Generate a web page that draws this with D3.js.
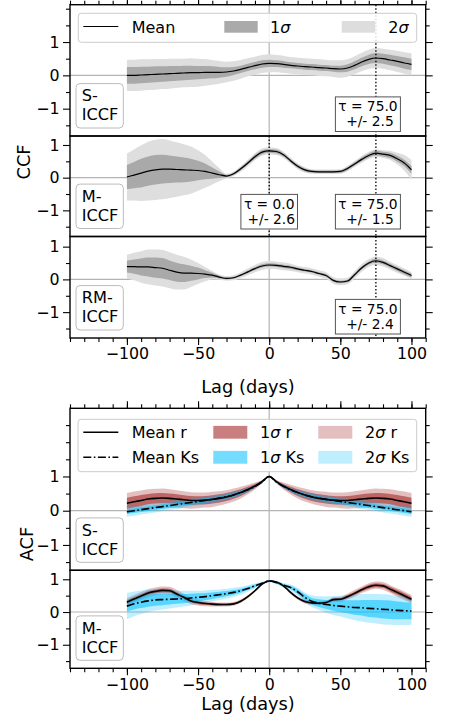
<!DOCTYPE html>
<html>
<head>
<meta charset="utf-8">
<script src="https://cdn.jsdelivr.net/npm/d3@7"></script>
<style>
    body { margin: 0; background: #fff; }
    svg { display: block; font-family: "DejaVu Sans", sans-serif; }
</style>
</head>
<body>
<svg id="chart" width="454" height="722"></svg>
<script>
// lag grid (days)
var lags = [-100,-95,-90,-85,-80,-75,-70,-65,-60,-55,-50,-45,-40,-35,-30,-25,-20,-15,-10,-5,
            0,5,10,15,20,25,30,35,40,45,50,55,60,65,70,75,80,85,90,95,100];

// CCF, S-ICCF
var ccfSMean = [0.00,0.00,0.01,0.02,0.03,0.04,0.05,0.06,0.07,0.08, 0.08,0.09,0.09,0.09,0.10,0.13,0.18,0.24,0.29,0.34,
                0.36,0.35,0.33,0.30,0.28,0.26,0.25,0.23,0.22,0.20, 0.19,0.22,0.30,0.40,0.48,0.52,0.50,0.46,0.42,0.37,0.33];
var ccfSSig1 = [0.25,0.25,0.25,0.24,0.24,0.23,0.23,0.22,0.22,0.21, 0.20,0.19,0.18,0.16,0.14,0.12,0.11,0.11,0.11,0.11,
                0.11,0.10,0.10,0.09,0.09,0.09,0.09,0.09,0.09,0.09, 0.10,0.11,0.12,0.13,0.14,0.15,0.15,0.16,0.16,0.17,0.17];
var ccfSSig2 = [0.47,0.47,0.47,0.46,0.46,0.45,0.45,0.44,0.43,0.43, 0.42,0.40,0.37,0.34,0.31,0.29,0.28,0.27,0.27,0.27,
                0.27,0.26,0.26,0.25,0.25,0.25,0.25,0.25,0.25,0.25, 0.26,0.26,0.27,0.28,0.29,0.30,0.30,0.31,0.32,0.32,0.33];

// CCF, M-ICCF
var ccfMMean = [0.02,0.08,0.14,0.20,0.24,0.26,0.26,0.25,0.24,0.23, 0.22,0.19,0.14,0.09,0.05,0.12,0.27,0.45,0.64,0.78,
                0.82,0.80,0.70,0.52,0.35,0.24,0.19,0.18,0.18,0.18, 0.19,0.28,0.42,0.56,0.68,0.75,0.72,0.68,0.58,0.45,0.24];
var ccfMSig1 = [0.37,0.40,0.44,0.45,0.45,0.44,0.42,0.40,0.38,0.35, 0.30,0.24,0.17,0.10,0.04,0.04,0.05,0.05,0.06,0.06,
                0.06,0.06,0.05,0.05,0.05,0.05,0.04,0.04,0.04,0.04, 0.04,0.05,0.05,0.06,0.06,0.07,0.07,0.08,0.09,0.10,0.12];
var ccfMSig2 = [0.72,0.78,0.85,0.90,0.92,0.92,0.88,0.83,0.78,0.72, 0.62,0.50,0.35,0.20,0.07,0.07,0.09,0.10,0.11,0.11,
                0.11,0.11,0.10,0.09,0.09,0.08,0.07,0.07,0.07,0.07, 0.07,0.08,0.09,0.10,0.11,0.12,0.12,0.14,0.18,0.24,0.30];

// CCF, RM-ICCF
var ccfRMMean = [0.39,0.39,0.38,0.38,0.36,0.34,0.28,0.22,0.19,0.19, 0.18,0.16,0.13,0.07,0.03,0.05,0.13,0.23,0.33,0.41,
                 0.44,0.43,0.40,0.37,0.32,0.28,0.24,0.18,0.12,-0.03, -0.08,-0.05,0.14,0.35,0.50,0.57,0.52,0.42,0.32,0.22,0.12];
var ccfRMSig1 = [0.18,0.22,0.26,0.29,0.31,0.31,0.30,0.29,0.27,0.23, 0.18,0.12,0.07,0.04,0.03,0.03,0.03,0.04,0.04,0.05,
                 0.05,0.05,0.05,0.05,0.04,0.04,0.04,0.04,0.04,0.04, 0.04,0.04,0.05,0.05,0.05,0.06,0.06,0.06,0.06,0.06,0.06];
var ccfRMSig2 = [0.36,0.42,0.48,0.53,0.55,0.56,0.55,0.53,0.50,0.42, 0.32,0.22,0.13,0.08,0.07,0.08,0.09,0.10,0.11,0.12,
                 0.12,0.12,0.12,0.11,0.10,0.10,0.10,0.10,0.10,0.10, 0.10,0.10,0.11,0.12,0.12,0.13,0.13,0.12,0.12,0.11,0.10];

// ACF, S-ICCF
var acfSR     = [0.22,0.26,0.30,0.34,0.36,0.37,0.36,0.34,0.32,0.30, 0.30,0.31,0.33,0.36,0.40,0.46,0.53,0.62,0.72,0.85,
                 1.00,0.85,0.72,0.62,0.53,0.46,0.40,0.36,0.33,0.31, 0.30,0.30,0.32,0.34,0.36,0.37,0.36,0.34,0.30,0.26,0.22];
var acfSRSig1 = [0.16,0.16,0.16,0.15,0.15,0.15,0.14,0.14,0.13,0.13, 0.12,0.12,0.12,0.12,0.12,0.11,0.10,0.08,0.06,0.03,
                 0.00,0.03,0.06,0.08,0.10,0.11,0.12,0.12,0.12,0.12, 0.12,0.13,0.13,0.14,0.14,0.15,0.15,0.15,0.16,0.16,0.16];
var acfSRSig2 = [0.30,0.30,0.29,0.29,0.28,0.28,0.27,0.26,0.25,0.24, 0.23,0.22,0.22,0.21,0.20,0.19,0.17,0.14,0.10,0.05,
                 0.01,0.05,0.10,0.14,0.17,0.19,0.20,0.21,0.22,0.22, 0.23,0.24,0.25,0.26,0.27,0.28,0.28,0.29,0.29,0.30,0.30];
var acfSKs     = [-0.03,0.00,0.03,0.06,0.09,0.12,0.15,0.18,0.21,0.24, 0.27,0.30,0.33,0.37,0.41,0.46,0.53,0.61,0.71,0.84,
                  1.00,0.84,0.71,0.61,0.53,0.46,0.41,0.37,0.33,0.30, 0.27,0.24,0.21,0.18,0.15,0.12,0.09,0.06,0.03,0.00,-0.03];
var acfSKsSig1 = [0.07,0.07,0.07,0.07,0.07,0.07,0.07,0.07,0.07,0.07, 0.07,0.07,0.06,0.06,0.06,0.06,0.05,0.04,0.03,0.02,
                  0.00,0.02,0.03,0.04,0.05,0.06,0.06,0.06,0.06,0.07, 0.07,0.07,0.07,0.07,0.07,0.07,0.07,0.07,0.07,0.07,0.07];
var acfSKsSig2 = [0.15,0.15,0.14,0.14,0.14,0.13,0.13,0.13,0.12,0.12, 0.12,0.11,0.11,0.10,0.10,0.09,0.08,0.07,0.05,0.03,
                  0.01,0.03,0.05,0.07,0.08,0.09,0.10,0.10,0.11,0.11, 0.12,0.12,0.12,0.13,0.13,0.13,0.14,0.14,0.14,0.15,0.15];

// ACF, M-ICCF
var acfMR     = [0.30,0.40,0.49,0.58,0.63,0.66,0.65,0.55,0.45,0.34, 0.29,0.26,0.24,0.23,0.23,0.25,0.33,0.47,0.65,0.85,
                 0.95,0.92,0.80,0.60,0.43,0.32,0.28,0.27,0.29,0.38, 0.39,0.47,0.57,0.68,0.77,0.82,0.80,0.70,0.60,0.50,0.39];
var acfMRSig1 = [0.06,0.06,0.06,0.06,0.06,0.06,0.06,0.06,0.05,0.05, 0.05,0.04,0.04,0.04,0.03,0.03,0.03,0.03,0.02,0.02,
                 0.02,0.02,0.02,0.03,0.03,0.03,0.03,0.03,0.03,0.04, 0.04,0.05,0.05,0.05,0.06,0.06,0.06,0.07,0.07,0.07,0.07];
var acfMRSig2 = [0.12,0.12,0.12,0.12,0.12,0.12,0.12,0.12,0.11,0.10, 0.09,0.08,0.07,0.06,0.06,0.06,0.05,0.05,0.04,0.03,
                 0.03,0.03,0.04,0.05,0.05,0.06,0.06,0.06,0.06,0.07, 0.08,0.09,0.10,0.10,0.11,0.11,0.12,0.12,0.13,0.13,0.13];
var acfMKs     = [0.18,0.25,0.30,0.34,0.37,0.38,0.39,0.40,0.41,0.43, 0.45,0.47,0.50,0.53,0.56,0.60,0.65,0.72,0.80,0.88,
                  0.95,0.90,0.82,0.75,0.62,0.45,0.33,0.27,0.23,0.20, 0.18,0.16,0.14,0.13,0.11,0.10,0.08,0.07,0.05,0.04,0.03];
var acfMKsSig1 = [0.16,0.17,0.18,0.18,0.18,0.17,0.16,0.15,0.14,0.13, 0.12,0.11,0.10,0.09,0.08,0.07,0.06,0.05,0.04,0.03,
                  0.02,0.03,0.04,0.05,0.07,0.09,0.10,0.12,0.14,0.16, 0.18,0.20,0.22,0.24,0.26,0.27,0.28,0.28,0.27,0.26,0.25];
var acfMKsSig2 = [0.40,0.38,0.36,0.34,0.32,0.30,0.28,0.26,0.24,0.22, 0.20,0.19,0.18,0.16,0.15,0.14,0.12,0.10,0.07,0.04,
                  0.03,0.05,0.07,0.09,0.12,0.15,0.18,0.21,0.25,0.29, 0.32,0.36,0.39,0.42,0.44,0.45,0.46,0.46,0.45,0.44,0.42];

// peak lags
var tauS = [75.0],       tauSErr = [2.5];
var tauM = [0.0, 75.0],  tauMErr = [2.6, 1.5];
var tauRM = [75.0],      tauRMErr = [2.4];

var xMajor = [-100, -50, 0, 50, 100],
    yMajor = [-1, 0, 1];

var svg = d3.select("#chart"),
    fmt = d3.format("d"),
    tauFmt = d3.format(".1f");

var x = d3.scaleLinear().domain([-140, 110]).range([70, 425.7]);

var ccfPanels = [
    {label: ["S-", "ICCF"], top: 4.7, bottom: 136, dom: [-1.82, 2.12], mean: ccfSMean, s1: ccfSSig1, s2: ccfSSig2, taus: tauS, errs: tauSErr, tauGap: 4.5},
    {label: ["M-", "ICCF"], top: 136, bottom: 236.5, dom: [-1.8, 1.275], mean: ccfMMean, s1: ccfMSig1, s2: ccfMSig2, taus: tauM, errs: tauMErr, tauGap: 7.5},
    {label: ["RM-", "ICCF"], top: 236.5, bottom: 338, dom: [-1.79, 1.31], mean: ccfRMMean, s1: ccfRMSig1, s2: ccfRMSig2, taus: tauRM, errs: tauRMErr, tauGap: 4}
];

var acfPanels = [
    {label: ["S-", "ICCF"], top: 408.3, bottom: 570.3, dom: [-1.74, 2.99],
        r: acfSR, r1: acfSRSig1, r2: acfSRSig2, ks: acfSKs, k1: acfSKsSig1, k2: acfSKsSig2},
    {label: ["M-", "ICCF"], top: 570.3, bottom: 668.3, dom: [-1.72, 1.275],
        r: acfMR, r1: acfMRSig1, r2: acfMRSig2, ks: acfMKs, k1: acfMKsSig1, k2: acfMKsSig2}
];

var brown = "#a52a2a", sky = "#00bfff";

function yScale(p) {
    return d3.scaleLinear().domain(p.dom).range([p.bottom, p.top]);
}

function band(y, mean, sig) {
    return d3.area()
        .curve(d3.curveMonotoneX)
        .x(function(d, i) { return x(lags[i]); })
        .y0(function(d, i) { return y(mean[i] - sig[i]); })
        .y1(function(d, i) { return y(mean[i] + sig[i]); })(mean);
}

function line(y, vals) {
    return d3.line()
        .curve(d3.curveMonotoneX)
        .x(function(d, i) { return x(lags[i]); })
        .y(function(d) { return y(d); })(vals);
}

function styleAxis(g) {
    g.select(".domain").remove();
    g.selectAll("line").attr("stroke", "#000").attr("stroke-width", 1.1);
    g.selectAll("text").attr("fill", "#000");
    g.attr("font-size", 15.8).attr("font-family", "DejaVu Sans, sans-serif");
}

function drawAxes(g, y, p, first, last) {
    var minorY = d3.range(-2, p.dom[1], 0.5).filter(function(v) {
        return v > p.dom[0] && yMajor.indexOf(v) < 0;
    });
    var minorX = d3.range(-140, 111, 10);

    g.append("g").attr("transform", "translate(70,0)")
        .call(d3.axisLeft(y).tickValues(yMajor).tickSize(7).tickPadding(3.5).tickFormat(fmt)).call(styleAxis);
    g.append("g").attr("transform", "translate(70,0)")
        .call(d3.axisLeft(y).tickValues(minorY).tickSize(4).tickFormat("")).call(styleAxis);
    g.append("g").attr("transform", "translate(425.7,0)")
        .call(d3.axisRight(y).tickValues(yMajor).tickSize(7).tickFormat("")).call(styleAxis);
    g.append("g").attr("transform", "translate(425.7,0)")
        .call(d3.axisRight(y).tickValues(minorY).tickSize(4).tickFormat("")).call(styleAxis);

    if (first) {
        g.append("g").attr("transform", "translate(0," + p.top + ")")
            .call(d3.axisTop(x).tickValues(xMajor).tickSize(7).tickFormat("")).call(styleAxis);
        g.append("g").attr("transform", "translate(0," + p.top + ")")
            .call(d3.axisTop(x).tickValues(minorX).tickSize(4).tickFormat("")).call(styleAxis);
    }
    if (last) {
        g.append("g").attr("transform", "translate(0," + p.bottom + ")")
            .call(d3.axisBottom(x).tickValues(xMajor).tickSize(7).tickPadding(3).tickFormat(fmt)).call(styleAxis);
        g.append("g").attr("transform", "translate(0," + p.bottom + ")")
            .call(d3.axisBottom(x).tickValues(minorX).tickSize(4).tickFormat("")).call(styleAxis);
    }
}

function zeroLines(g, y, p) {
    g.append("line")
        .attr("x1", 70).attr("x2", 425.7).attr("y1", y(0)).attr("y2", y(0))
        .attr("stroke", "#b4b4b4").attr("stroke-width", 1.2);
    g.append("line")
        .attr("x1", x(0)).attr("x2", x(0)).attr("y1", p.top).attr("y2", p.bottom)
        .attr("stroke", "#b4b4b4").attr("stroke-width", 1.2);
}

function labelBox(g, p, lines) {
    var bx = 76, bw = 47.3, bh = 44.4, by = p.bottom - 8 - bh;
    g.append("rect")
        .attr("x", bx).attr("y", by).attr("width", bw).attr("height", bh)
        .attr("rx", 4).attr("fill", "#fff").attr("stroke", "#bcbcbc").attr("stroke-width", 1);
    g.append("text")
        .attr("x", bx + 5.7).attr("y", by + 17.7).attr("font-size", 16.2).text(lines[0]);
    g.append("text")
        .attr("x", bx + 5.7).attr("y", by + 36.7).attr("font-size", 16.2).text(lines[1]);
}

function frame(g, p) {
    g.append("rect")
        .attr("x", 70).attr("y", p.top).attr("width", 425.7 - 70).attr("height", p.bottom - p.top)
        .attr("fill", "none").attr("stroke", "#000").attr("stroke-width", 1.4);
}

// ---- CCF figure ----
ccfPanels.forEach(function(p, k) {
    var y = yScale(p),
        g = svg.append("g");

    zeroLines(g, y, p);
    g.append("path").attr("d", band(y, p.mean, p.s2)).attr("fill", "#dedede");
    g.append("path").attr("d", band(y, p.mean, p.s1)).attr("fill", "#a9a9a9");
    g.append("path").attr("d", line(y, p.mean))
        .attr("fill", "none").attr("stroke", "#000").attr("stroke-width", 1.2);

    p.taus.forEach(function(t, i) {
        g.append("line")
            .attr("x1", x(t)).attr("x2", x(t)).attr("y1", p.top).attr("y2", p.bottom)
            .attr("stroke", "#000").attr("stroke-width", 1.3).attr("stroke-dasharray", "1.5,2");
    });
    p.taus.forEach(function(t, i) {
        var bw = t > 50 ? 65 : 56.6, bh = 34.6,
            cx = t > 50 ? x(t) - 8 : x(t),
            by = p.bottom - p.tauGap - bh;
        g.append("rect")
            .attr("x", cx - bw / 2).attr("y", by).attr("width", bw).attr("height", bh)
            .attr("fill", "#fff").attr("stroke", "#555").attr("stroke-width", 1);
        g.append("text").attr("x", cx).attr("y", by + 14.5).attr("text-anchor", "middle")
            .attr("font-size", 13.8).text("\u03c4 = " + tauFmt(t));
        g.append("text").attr("x", cx + 2).attr("y", by + 29.3).attr("text-anchor", "middle")
            .attr("font-size", 13.8).text("+/- " + tauFmt(p.errs[i]));
    });

    if (k === 0) {
        var lg = g.append("g");
        lg.append("rect").attr("x", 78.3).attr("y", 13.3).attr("width", 338.4).attr("height", 29)
            .attr("rx", 3).attr("fill", "#fff").attr("fill-opacity", 0.85).attr("stroke", "#cccccc");
        lg.append("line").attr("x1", 83.3).attr("x2", 118.3).attr("y1", 26.5).attr("y2", 26.5)
            .attr("stroke", "#000").attr("stroke-width", 1.2);
        lg.append("text").attr("x", 131.7).attr("y", 33).attr("font-size", 16).text("Mean");
        lg.append("rect").attr("x", 224.3).attr("y", 21).attr("width", 33.4).attr("height", 11.7).attr("fill", "#aaaaaa");
        var t1 = lg.append("text").attr("x", 270).attr("y", 33).attr("font-size", 16).text("1");
        t1.append("tspan").attr("font-style", "italic").text("\u03c3");
        lg.append("rect").attr("x", 341.7).attr("y", 21).attr("width", 33.4).attr("height", 11.7).attr("fill", "#dddddd");
        var t2 = lg.append("text").attr("x", 388.3).attr("y", 33).attr("font-size", 16).text("2");
        t2.append("tspan").attr("font-style", "italic").text("\u03c3");
    }

    labelBox(g, p, p.label);
    frame(g, p);
    drawAxes(g, y, p, k === 0, k === ccfPanels.length - 1);
});

svg.append("text").attr("x", 248).attr("y", 393).attr("text-anchor", "middle")
    .attr("font-size", 17.8).text("Lag (days)");
svg.append("text").attr("transform", "translate(30,162) rotate(-90)").attr("text-anchor", "middle")
    .attr("font-size", 17.8).text("CCF");

// ---- ACF figure ----
acfPanels.forEach(function(p, k) {
    var y = yScale(p),
        g = svg.append("g");

    zeroLines(g, y, p);
    g.append("path").attr("d", band(y, p.r, p.r2)).attr("fill", brown).attr("fill-opacity", 0.3);
    g.append("path").attr("d", band(y, p.r, p.r1)).attr("fill", brown).attr("fill-opacity", 0.6);
    g.append("path").attr("d", band(y, p.ks, p.k2)).attr("fill", sky).attr("fill-opacity", 0.25);
    g.append("path").attr("d", band(y, p.ks, p.k1)).attr("fill", sky).attr("fill-opacity", 0.55);
    g.append("path").attr("d", line(y, p.r))
        .attr("fill", "none").attr("stroke", "#000").attr("stroke-width", 1.6);
    g.append("path").attr("d", line(y, p.ks))
        .attr("fill", "none").attr("stroke", "#000").attr("stroke-width", 1.6)
        .attr("stroke-dasharray", "8,2.5,1.6,2.5");

    if (k === 0) {
        var lg = g.append("g"),
            rows = [432.3, 457.3];
        lg.append("rect").attr("x", 78).attr("y", 419.3).attr("width", 338.7).attr("height", 52.4)
            .attr("rx", 3).attr("fill", "#fff").attr("fill-opacity", 0.85).attr("stroke", "#cccccc");
        lg.append("line").attr("x1", 83.3).attr("x2", 118.3).attr("y1", rows[0]).attr("y2", rows[0])
            .attr("stroke", "#000").attr("stroke-width", 1.6);
        lg.append("line").attr("x1", 83.3).attr("x2", 118.3).attr("y1", rows[1]).attr("y2", rows[1])
            .attr("stroke", "#000").attr("stroke-width", 1.6).attr("stroke-dasharray", "8,2.5,1.6,2.5");
        lg.append("text").attr("x", 131.7).attr("y", rows[0] + 5.8).attr("font-size", 16).text("Mean r");
        lg.append("text").attr("x", 131.7).attr("y", rows[1] + 5.8).attr("font-size", 16).text("Mean Ks");

        var items = [
            {x: 213.3, tx: 260, row: 0, c: brown, o: 0.6, n: "1", s: " r"},
            {x: 318.3, tx: 365, row: 0, c: brown, o: 0.3, n: "2", s: " r"},
            {x: 213.3, tx: 260, row: 1, c: sky, o: 0.55, n: "1", s: " Ks"},
            {x: 318.3, tx: 365, row: 1, c: sky, o: 0.25, n: "2", s: " Ks"}
        ];
        items.forEach(function(it) {
            var cy = rows[it.row];
            lg.append("rect").attr("x", it.x).attr("y", cy - 6.4).attr("width", 34).attr("height", 12.8)
                .attr("fill", it.c).attr("fill-opacity", it.o);
            var t = lg.append("text").attr("x", it.tx).attr("y", cy + 5.8).attr("font-size", 16).text(it.n);
            t.append("tspan").attr("font-style", "italic").text("\u03c3");
            t.append("tspan").text(it.s);
        });
    }

    labelBox(g, p, p.label);
    frame(g, p);
    drawAxes(g, y, p, k === 0, k === acfPanels.length - 1);
});

svg.append("text").attr("x", 248).attr("y", 709.5).attr("text-anchor", "middle")
    .attr("font-size", 17.8).text("Lag (days)");
svg.append("text").attr("transform", "translate(33,544) rotate(-90)").attr("text-anchor", "middle")
    .attr("font-size", 17.8).text("ACF");
</script>
</body>
</html>
